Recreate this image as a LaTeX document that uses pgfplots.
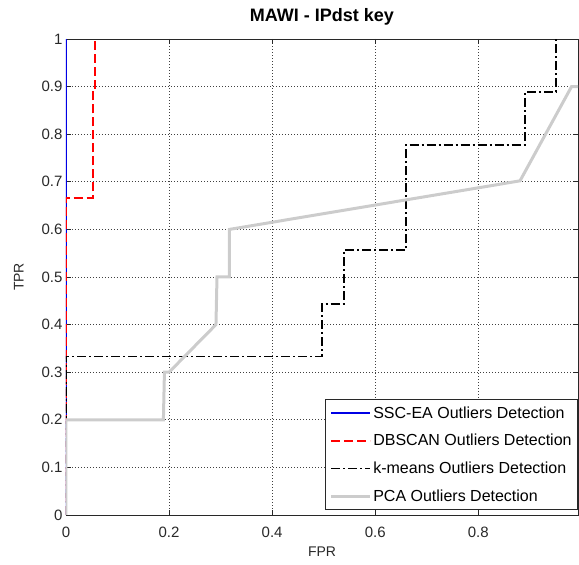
\documentclass[border=0pt]{standalone}
\usepackage{pgfplots}
\pgfplotsset{compat=1.18}
\usepackage{fontspec}
\setmainfont{Liberation Sans}
\definecolor{pcagray}{RGB}{204,204,204}
\definecolor{axgray}{RGB}{40,40,40}
\begin{document}
\begin{tikzpicture}
\useasboundingbox (0pt,0pt) rectangle (579pt,565pt);
\begin{axis}[
  at={(66pt,50pt)}, anchor=south west,
  scale only axis, width=512pt, height=476pt,
  xmin=0, xmax=0.9935, ymin=0, ymax=1,
  xtick={0,0.2,0.4,0.6,0.8},
  ytick={0,0.1,0.2,0.3,0.4,0.5,0.6,0.7,0.8,0.9,1},
  yticklabels={0,0.1,0.2,0.3,0.4,0.5,0.6,0.7,0.8,0.9,1},
  xticklabels={0,0.2,0.4,0.6,0.8},
  tick align=inside, tick pos=both, major tick length=5pt,
  tick style={axgray, line width=0.6pt},
  axis line style={axgray, line width=0.8pt},
  grid=major, major grid style={black!75, line width=0.6pt, dash pattern=on 1pt off 2pt},
  ticklabel style={font=\fontsize{15}{17}\selectfont, text=axgray},
  xticklabel style={yshift=-8pt},
  /pgf/number format/assume math mode=true,
  xlabel={FPR}, ylabel={TPR},
  label style={font=\fontsize{14}{16}\selectfont, text=axgray},
  xlabel style={yshift=-3pt},
  ylabel style={yshift=11pt},
  title={MAWI - IPdst key},
  title style={font=\fontsize{18}{20}\selectfont\bfseries, yshift=4pt},
  legend cell align=left,
  legend style={at={(1,0)}, anchor=south east, yshift=5pt,
    font=\fontsize{16}{18}\selectfont, draw=axgray, line width=0.8pt,
    row sep=11.5pt, inner xsep=4.5pt, inner ysep=5.5pt,
    nodes={inner sep=1.5pt}},
  legend image code/.code={\draw[#1] (0pt,0pt) -- (39pt,0pt);},
]
\addplot[blue!90!black, line width=2pt] coordinates {(0,0) (0,1)};
\addlegendentry{SSC-EA Outliers Detection}
\addplot[red, line width=2pt, dash pattern=on 9pt off 4pt] coordinates {
 (0,0) (0,0.667) (0.053,0.667) (0.053,0.889) (0.056,0.889) (0.056,1)};
\addlegendentry{DBSCAN Outliers Detection}
\addplot[black, line width=1.8pt, dash pattern=on 9pt off 3pt on 2pt off 3pt] coordinates {
 (0,0) (0,0.333) (0.496,0.333) (0.496,0.444) (0.539,0.444) (0.539,0.556)
 (0.66,0.556) (0.66,0.778) (0.89,0.778) (0.89,0.889) (0.951,0.889) (0.951,1)};
\addlegendentry{k-means Outliers Detection}
\addplot[pcagray, line width=3pt] coordinates {
 (0,0) (0,0.2) (0.189,0.2) (0.191,0.3) (0.2,0.3) (0.291,0.4) (0.293,0.5)
 (0.317,0.5) (0.317,0.6) (0.881,0.702) (0.981,0.9) (0.9935,0.9)};
\addlegendentry{PCA Outliers Detection}
\end{axis}
\end{tikzpicture}
\end{document}
